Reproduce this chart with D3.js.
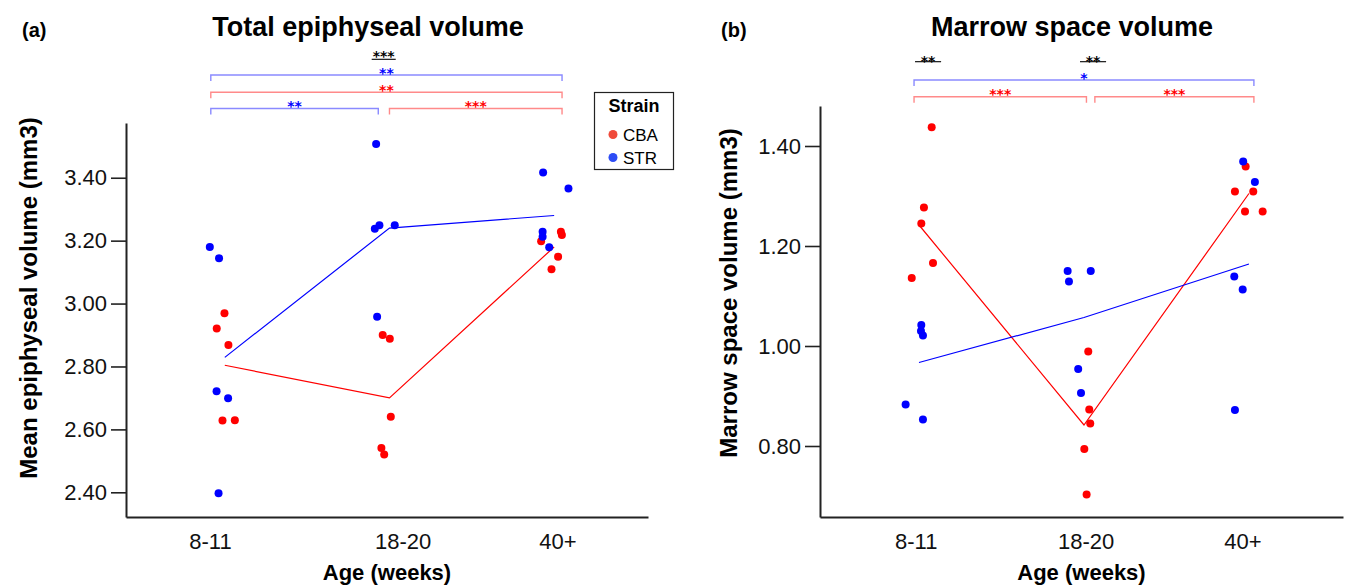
<!DOCTYPE html>
<html>
<head>
<meta charset="utf-8">
<script src="https://cdn.jsdelivr.net/npm/d3@7"></script>
<style>
  html, body { margin: 0; padding: 0; background: #fff; }
  svg { display: block; font-family: "Liberation Sans", Arial, Helvetica, sans-serif; }
</style>
</head>
<body>
<svg id="chart" width="1348" height="586"></svg>
<script>
// ---------------- DATA ----------------
const ageGroups = ["8-11", "18-20", "40+"];
const strains = ["CBA", "STR"];
const strainColors = ["#FF0000", "#0000FF"];
const bracketColors = ["#FF8A8A", "#8A8AFF"];
const legendColors = ["#F04A3A", "#2D4CF5"];

// Panel (a): Total epiphyseal volume, per age group, per strain
const epiCBA = [
  [2.969, 2.921, 2.868, 2.628, 2.629],
  [2.900, 2.888, 2.640, 2.541, 2.520],
  [3.198, 3.228, 3.218, 3.149, 3.109]
];
const epiCBAJitter = [
  [-0.002, -0.049, 0.022, -0.014, 0.061],
  [-0.041, 0.002, 0.008, -0.049, -0.032],
  [-0.079, 0.041, 0.047, 0.024, -0.016]
];
const epiSTR = [
  [3.180, 3.144, 2.721, 2.699, 2.397],
  [3.507, 3.238, 3.249, 3.249, 2.958],
  [3.417, 3.366, 3.228, 3.212, 3.179]
];
const epiSTRJitter = [
  [-0.091, -0.035, -0.050, 0.020, -0.038],
  [-0.081, -0.089, -0.061, 0.032, -0.075],
  [-0.067, 0.087, -0.070, -0.070, -0.030]
];
const epiMeanCBA = [2.804, 2.700, 3.180];
const epiMeanSTR = [2.829, 3.240, 3.280];
const epiTicks = [2.4, 2.6, 2.8, 3.0, 3.2, 3.4];
const epiLabelPos = [-0.09, 1.08, 2.02];

// Panel (b): Marrow space volume
const marCBA = [
  [1.4375, 1.277, 1.245, 1.166, 1.136],
  [0.989, 0.873, 0.845, 0.794, 0.703],
  [1.359, 1.309, 1.309, 1.269, 1.269]
];
const marCBAJitter = [
  [0.077, 0.030, 0.014, 0.085, -0.044],
  [0.026, 0.032, 0.038, 0.002, 0.016],
  [-0.020, -0.085, 0.026, -0.024, 0.083]
];
const marSTR = [
  [1.042, 1.030, 1.021, 0.883, 0.853],
  [1.150, 1.129, 1.150, 0.954, 0.906],
  [1.369, 1.328, 1.139, 1.113, 0.872]
];
const marSTRJitter = [
  [0.014, 0.012, 0.024, -0.081, 0.024],
  [-0.099, -0.091, 0.041, -0.035, -0.018],
  [-0.035, 0.036, -0.089, -0.038, -0.085]
];
const marMeanCBA = [1.242, 0.842, 1.305];
const marMeanSTR = [0.967, 1.057, 1.164];
const marTicks = [0.8, 1.0, 1.2, 1.4];
const marLabelPos = [-0.02, 1.01, 1.96];

// Significance brackets: from/to in age-group units, strain index (-1 = between strains)
const epiBrackets = [
  { from: -0.085, to: 0.932, label: "**", strain: 1, level: 0 },
  { from: 1.0, to: 2.048, label: "***", strain: 0, level: 0 },
  { from: -0.085, to: 2.048, label: "**", strain: 0, level: 1 },
  { from: -0.085, to: 2.048, label: "**", strain: 1, level: 2 },
  { from: 0.892, to: 1.038, label: "***", strain: -1, level: 3 }
];
const marBrackets = [
  { from: -0.03, to: 1.015, label: "***", strain: 0, level: 0 },
  { from: 1.066, to: 2.03, label: "***", strain: 0, level: 0 },
  { from: -0.03, to: 2.03, label: "*", strain: 1, level: 1 },
  { from: -0.024, to: 0.134, label: "**", strain: -1, level: 2 },
  { from: 0.976, to: 1.134, label: "**", strain: -1, level: 2 }
];

// ---------------- LAYOUT ----------------
const svg = d3.select("#chart");
const FONT_TICK = 22, FONT_AXIS = 22, FONT_YAXIS = 24, FONT_STAR = 14;
const STAR_FONT = "'DejaVu Sans', 'Liberation Sans', sans-serif";

const panels = [
  {
    tag: "(a)", tagX: 22, title: "Total epiphyseal volume", titleX: 368,
    ytitle: "Mean epiphyseal volume (mm3)", ytitleX: 28, ytitleY: 298,
    left: 126, right: 648, top: 123, bottom: 517,
    ydomain: [2.3215, 3.574], ticks: epiTicks, labelPos: epiLabelPos,
    cba: epiCBA, cbaJ: epiCBAJitter, str: epiSTR, strJ: epiSTRJitter,
    meanCBA: epiMeanCBA, meanSTR: epiMeanSTR,
    brackets: epiBrackets, levelY: [108.5, 92.3, 75, 59.3], blackDy: 2, legend: true
  },
  {
    tag: "(b)", tagX: 721, title: "Marrow space volume", titleX: 1072,
    ytitle: "Marrow space volume (mm3)", ytitleX: 728, ytitleY: 293,
    left: 820, right: 1343, top: 106, bottom: 517,
    ydomain: [0.658, 1.48], ticks: marTicks, labelPos: marLabelPos,
    cba: marCBA, cbaJ: marCBAJitter, str: marSTR, strJ: marSTRJitter,
    meanCBA: marMeanCBA, meanSTR: marMeanSTR,
    brackets: marBrackets, levelY: [96.7, 80, 61.7], blackDy: 4.5, legend: false
  }
];

panels.forEach(p => {
  const g = svg.append("g");
  const x = d3.scaleLinear().domain([-0.6, 2.57]).range([p.left, p.right]);
  const y = d3.scaleLinear().domain(p.ydomain).range([p.bottom, p.top]);

  // panel tag & title
  g.append("text").attr("x", p.tagX).attr("y", 37)
    .attr("font-size", 20).attr("font-weight", "bold").text(p.tag);
  g.append("text").attr("x", p.titleX).attr("y", 36).attr("text-anchor", "middle")
    .attr("font-size", 27).attr("font-weight", "bold").text(p.title);

  // axes
  const yAxis = d3.axisLeft(y).tickValues(p.ticks).tickFormat(d3.format(".2f"))
    .tickSize(15).tickSizeOuter(0).tickPadding(4);
  const ya = g.append("g").attr("transform", `translate(${p.left},0)`).call(yAxis);
  ya.selectAll("text").attr("font-size", FONT_TICK).attr("fill", "#111")
    .style("font-family", "'Liberation Sans', Arial, sans-serif");
  ya.selectAll("line").attr("stroke", "#222").attr("stroke-width", 1.6);
  ya.select(".domain").attr("stroke", "#222").attr("stroke-width", 2);

  const xAxis = d3.axisBottom(x).tickValues(p.labelPos)
    .tickFormat((d, i) => ageGroups[i]).tickSize(0).tickSizeOuter(0).tickPadding(16);
  const xa = g.append("g").attr("transform", `translate(0,${p.bottom})`).call(xAxis);
  xa.selectAll("text").attr("font-size", FONT_TICK).attr("fill", "#111")
    .style("font-family", "'Liberation Sans', Arial, sans-serif");
  xa.select(".domain").attr("stroke", "#222").attr("stroke-width", 2);

  // axis titles
  g.append("text").attr("x", (p.left + p.right) / 2).attr("y", 580)
    .attr("text-anchor", "middle").attr("font-size", FONT_AXIS).attr("font-weight", "bold")
    .text("Age (weeks)");
  g.append("text").attr("transform", `translate(${p.ytitleX},${p.ytitleY}) rotate(-90)`)
    .attr("text-anchor", "middle").attr("dominant-baseline", "central")
    .attr("font-size", FONT_YAXIS).attr("font-weight", "bold").text(p.ytitle);

  // mean lines
  const line = d3.line().x((d, i) => x(i)).y(d => y(d));
  [p.meanCBA, p.meanSTR].forEach((m, si) => {
    g.append("path").attr("d", line(m)).attr("fill", "none")
      .attr("stroke", strainColors[si]).attr("stroke-width", 1.2);
  });

  // points
  [[p.cba, p.cbaJ], [p.str, p.strJ]].forEach(([vals, jit], si) => {
    const pts = [];
    vals.forEach((arr, gi) => arr.forEach((v, k) => pts.push({ gi, v, j: jit[gi][k] })));
    g.selectAll(null).data(pts).enter().append("circle")
      .attr("cx", d => x(d.gi + d.j)).attr("cy", d => y(d.v)).attr("r", 4)
      .attr("fill", strainColors[si]);
  });

  // brackets
  p.brackets.forEach(b => {
    const ly = p.levelY[b.level];
    const x1 = x(b.from), x2 = x(b.to);
    if (b.strain >= 0) {
      g.append("path")
        .attr("d", `M${x1},${ly + 6}V${ly}H${x2}V${ly + 6}`)
        .attr("fill", "none").attr("stroke", bracketColors[b.strain]).attr("stroke-width", 1.4);
      g.append("text").attr("x", (x1 + x2) / 2).attr("y", ly + 2.6)
        .attr("text-anchor", "middle").attr("font-size", FONT_STAR).attr("font-weight", "bold")
        .style("font-family", STAR_FONT)
        .attr("fill", strainColors[b.strain]).text(b.label);
    } else {
      g.append("line").attr("x1", x1).attr("x2", x2).attr("y1", ly).attr("y2", ly)
        .attr("stroke", "#000").attr("stroke-width", 1.1);
      g.append("text").attr("x", (x1 + x2) / 2).attr("y", ly + p.blackDy)
        .attr("text-anchor", "middle").attr("font-size", FONT_STAR).attr("font-weight", "bold")
        .style("font-family", STAR_FONT)
        .attr("fill", "#000").text(b.label);
    }
  });

  // legend
  if (p.legend) {
    const lg = svg.append("g");
    lg.append("rect").attr("x", 594.5).attr("y", 92.5).attr("width", 79).attr("height", 77)
      .attr("fill", "#fff").attr("stroke", "#222").attr("stroke-width", 1.2);
    lg.append("text").attr("x", 634).attr("y", 112).attr("text-anchor", "middle")
      .attr("font-size", 18).attr("font-weight", "bold").text("Strain");
    strains.forEach((s, i) => {
      lg.append("circle").attr("cx", 613).attr("cy", 134.5 + i * 23).attr("r", 4.5)
        .attr("fill", legendColors[i]);
      lg.append("text").attr("x", 623).attr("y", 141 + i * 23)
        .attr("font-size", 17).text(s);
    });
  }
});
</script>
</body>
</html>
